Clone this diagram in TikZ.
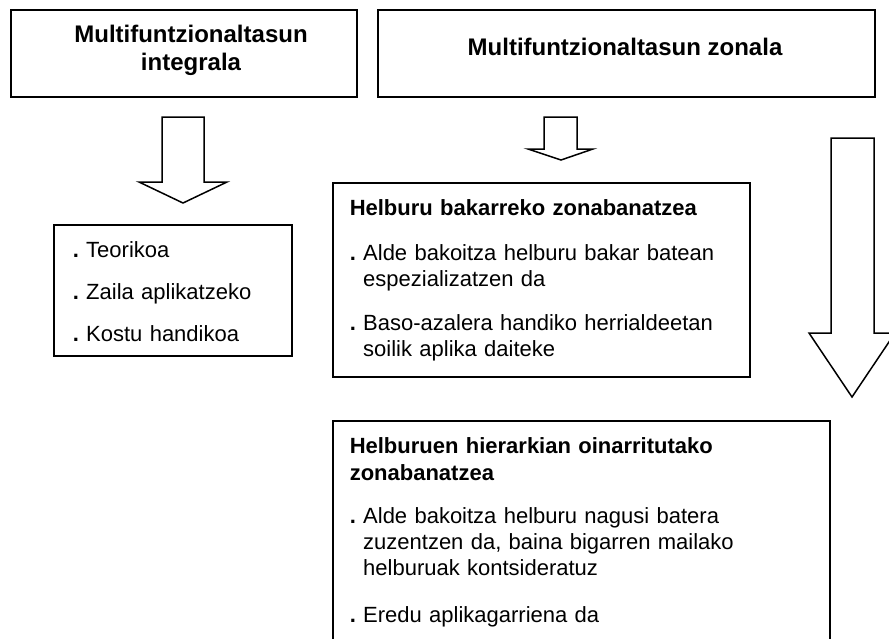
\documentclass[tikz,border=0pt]{standalone}
\usepackage{fontspec}
\setmainfont{Liberation Sans}
\usetikzlibrary{positioning}
\frenchspacing

\newcommand{\gap}{\phantom{\textbf{.}\ }}
\newcommand{\dotmark}{\textbf{.}\ }

\begin{document}
\begin{tikzpicture}[x=0.5pt, y=-0.5pt, line width=0.75pt]
    \tikzstyle{panel} = [draw=black, rectangle, anchor=north west, inner sep=0pt];
    \tikzstyle{title} = [font=\fontsize{12}{14}\selectfont\bfseries, align=center, inner sep=0pt];
    \tikzstyle{item} = [anchor=base west, inner sep=0pt, text width=250pt, align=left,
                        font=\fontsize{11}{13}\selectfont];
    \tikzstyle{hollow} = [draw=black, fill=white, line join=miter];
    \useasboundingbox (0,0) rectangle (889,638);
    \clip (0,0) rectangle (889,638);
    % top boxes
    \node [panel, minimum width=173pt, minimum height=43.5pt] (integral) at (10,9) {};
    \node [panel, minimum width=248.5pt, minimum height=43.5pt] (zonal) at (377,9) {};
    \node [title, anchor=base] (tintegral) at (191,70) {Multifuntzionaltasun\\ integrala};
    \node [title, anchor=base] (tzonal) at (625,55) {Multifuntzionaltasun zonala};
    % block arrows
    \draw [hollow] (162,117) -- (204,117) -- (204,182) -- (227,182) -- (183,203)
        -- (139,182) -- (162,182) -- cycle;
    \draw [hollow] (544,117) -- (577,117) -- (577,149) -- (593,149) -- (561,160)
        -- (528,149) -- (544,149) -- cycle;
    \draw [hollow] (831,138) -- (874,138) -- (874,333) -- (895,333) -- (852,397)
        -- (809,333) -- (831,333) -- cycle;
    % integral list
    \node [panel, minimum width=119pt, minimum height=65.5pt] (lintegral) at (53,224) {};
    \node [item] (teorikoa) at (72,257) {\dotmark Teorikoa};
    \node [item] (zaila) at (72,299) {\dotmark Zaila aplikatzeko};
    \node [item] (kostu) at (72,341) {\dotmark Kostu handikoa};
    % single-purpose zoning
    \node [panel, minimum width=208.5pt, minimum height=97pt] (bakar) at (332,182) {};
    \node [item, font=\fontsize{11}{13}\selectfont\bfseries] (hbakar) at (349,215)
        {Helburu bakarreko zonabanatzea};
    \node [item] (bakar1) at (349,260)
        {\dotmark Alde bakoitza helburu bakar batean\\ \gap espezializatzen da};
    \node [item] (bakar2) at (349,330)
        {\dotmark Baso-azalera handiko herrialdeetan\\ \gap soilik aplika daiteke};
    % hierarchy zoning
    \node [panel, minimum width=248.5pt, minimum height=125pt] (hierarkia) at (332,420) {};
    \node [item, font=\fontsize{11}{13.5}\selectfont\bfseries] (hhierarkia) at (349,453)
        {Helburuen hierarkian oinarritutako\\ zonabanatzea};
    \node [item] (hierarkia1) at (349,523)
        {\dotmark Alde bakoitza helburu nagusi batera\\ \gap zuzentzen da, baina bigarren mailako\\ \gap helburuak kontsideratuz};
    \node [item] (hierarkia2) at (349,622) {\dotmark Eredu aplikagarriena da};
\end{tikzpicture}
\end{document}
